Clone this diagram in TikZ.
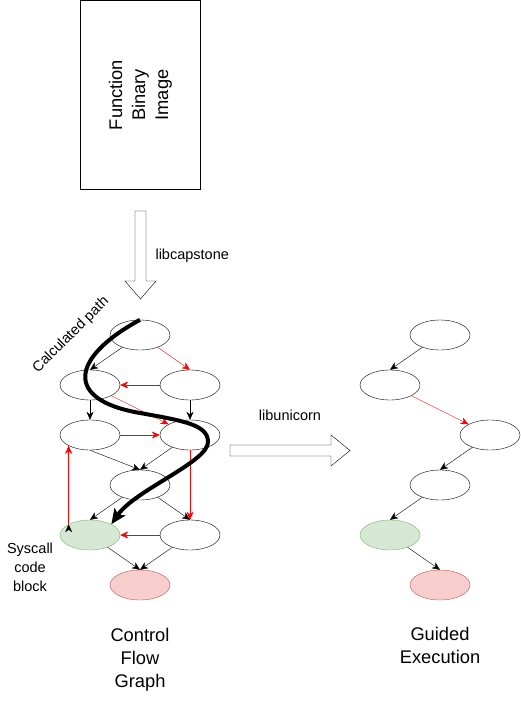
\documentclass[tikz,border=0pt]{standalone}
\usepackage{fontspec}
\setmainfont{Liberation Sans}
\usetikzlibrary{positioning, arrows.meta, shapes.geometric}
\definecolor{sysfill}{HTML}{D5E8D4}
\definecolor{sysline}{HTML}{82B366}
\definecolor{endfill}{HTML}{F8CECC}
\definecolor{endline}{HTML}{B85450}
\tikzset{
  blk/.style={
    draw, ellipse, minimum width=60pt, minimum height=30pt, inner sep=0pt
  },
  sysblk/.style={blk, draw=sysline, fill=sysfill},
  endblk/.style={blk, draw=endline, fill=endfill},
  lbl/.style={font=\fontsize{14.5}{19}\selectfont, align=center},
  big/.style={font=\fontsize{18.3}{23}\selectfont, align=center},
  -{Stealth[length=8pt,width=7pt,inset=2.5pt]}, line width=1pt, on grid
}

\begin{document}
\begin{tikzpicture}[x=1pt, y=-1pt]
  \useasboundingbox (0,0) rectangle (521,701);

  % binary image
  \node[draw, minimum width=120pt, minimum height=189pt, inner sep=0pt] (img) at (140.5,95) {};
  \node[big, rotate=90] (imgl) at (img) {Function\\Binary\\Image};

  % block arrows
  \draw[-] (135,211) -- (146,211) -- (146,281) -- (156,281) -- (140.5,299)
        -- (125,281) -- (135,281) -- cycle;
  \node[lbl, anchor=west] (cap) at (152,256) {libcapstone};
  \draw[-] (230,445) -- (331,445) -- (331,435) -- (350,450.5) -- (331,466)
        -- (331,456) -- (230,456) -- cycle;
  \node[lbl] (uni) at (290,415) {libunicorn};

  % control flow graph
  \node[blk] (c0) at (140,335) {};
  \node[blk, below left=50pt and 50pt of c0] (c1) {};
  \node[blk, below right=50pt and 50pt of c0] (c2) {};
  \node[blk, below=50pt of c1] (c3) {};
  \node[blk, below=50pt of c2] (c4) {};
  \node[blk, below right=50pt and 50pt of c3] (c5) {};
  \node[sysblk, below left=50pt and 50pt of c5] (c6) {};
  \node[blk, below right=50pt and 50pt of c5] (c7) {};
  \node[endblk, below right=50pt and 50pt of c6] (c8) {};

  \draw (c0) edge (c1.north)
        (c0) edge[red] (c2.north)
        (c2) edge[red] (c1)
        (c1) edge (c3)
        (c2) edge (c4)
        (c1) edge[red] (c4)
        (c3) edge[red] (c4)
        (c3.south) edge (c5.north)
        (c4) edge (c5.north)
        (c4) edge[red] (c7)
        (c5) edge (c6.north)
        (c5) edge (c7.north)
        (c7) edge[red] (c6)
        (c6.north west) edge[red] (c3.south west)
        (c6) edge (c8.north)
        (c7) edge (c8.north);

  % calculated path
  \draw[line width=4pt, -{Stealth[length=15pt,width=13pt,inset=3pt]}]
    (c0.north) .. controls (70,358) and (64,400) .. (140,413)
    .. controls (185,421) and (208,425) .. (208,442)
    .. controls (208,462) and (135,490) .. (c6.north east);
  \node[lbl, rotate=45] (calc) at (71,335) {Calculated path};
  \node[lbl] (sysl) at (30,567) {Syscall\\code\\block};
  \node[big] (cfgl) at (140,660) {Control\\Flow\\Graph};

  % guided execution
  \node[blk] (g0) at (440,335) {};
  \node[blk, below left=50pt and 50pt of g0] (g1) {};
  \node[blk, below right=50pt and 100pt of g1] (g2) {};
  \node[blk, below left=50pt and 50pt of g2] (g3) {};
  \node[sysblk, below left=50pt and 50pt of g3] (g4) {};
  \node[endblk, below right=50pt and 50pt of g4] (g5) {};

  \draw (g0) edge (g1.north)
        (g1) edge[red] (g2)
        (g2) edge (g3.north)
        (g3) edge (g4.north)
        (g4) edge (g5.north);
  \node[big] (gel) at (440,645) {Guided\\Execution};
\end{tikzpicture}
\end{document}
